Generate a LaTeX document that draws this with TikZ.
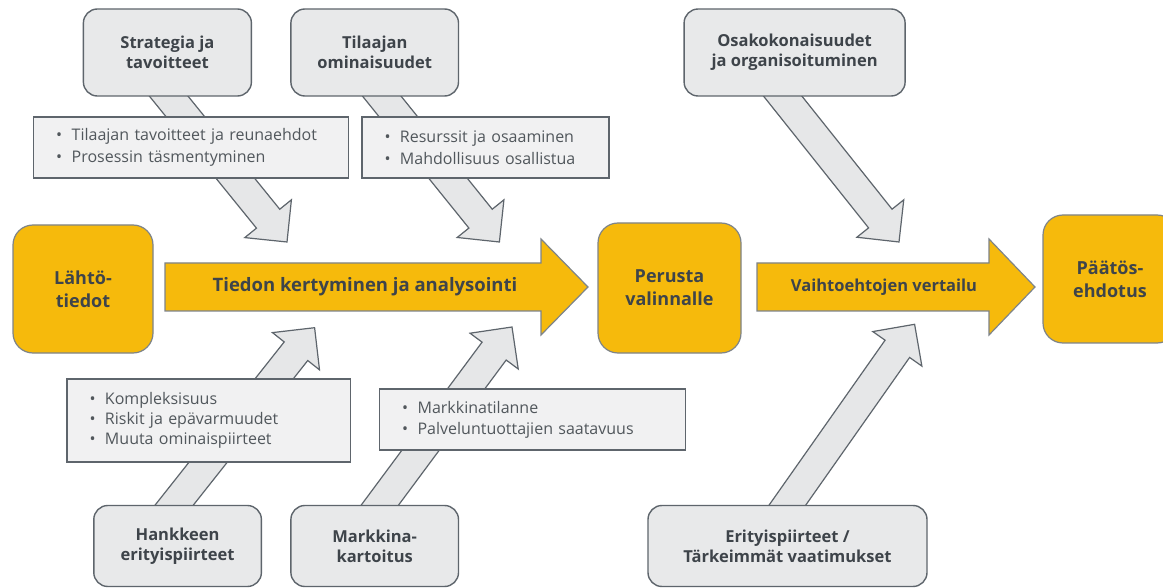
\documentclass[tikz,border=0pt]{standalone}
\usepackage{fontspec}
\setmainfont{Open Sans}
\usetikzlibrary{calc}
\definecolor{orng}{HTML}{F6BA0C}
\definecolor{gfill}{HTML}{E8E9EA}
\definecolor{bfill}{HTML}{F1F1F2}
\definecolor{afill}{HTML}{E6E7E8}
\definecolor{edge}{HTML}{5E656C}
\definecolor{txt}{HTML}{3E444A}
\newcommand\fatarrow[2]{%
  \coordinate (fh) at ($(#2)!30pt!(#1)$);
  \draw[fatarr] ($(#1)!15pt!90:(#2)$) -- ($(fh)!15pt!-90:(#1)$) -- ($(fh)!30pt!-90:(#1)$)
    -- (#2) -- ($(fh)!30pt!90:(#1)$) -- ($(fh)!15pt!90:(#1)$) -- ($(#1)!15pt!-90:(#2)$) -- cycle;}
\newcommand\bul[1]{\makebox[15.5pt][l]{•}#1}
\begin{document}
\begin{tikzpicture}[x=1pt,y=-1pt,
  graybox/.style={draw=edge, line width=1.4pt, fill=gfill, rounded corners=14pt,
    text=txt, font=\fontsize{16.5}{20}\selectfont\bfseries, align=center, inner sep=0pt},
  orangebox/.style={draw=edge!80, line width=1.2pt, fill=orng, rounded corners=20pt,
    text=txt, font=\fontsize{18}{23}\selectfont\bfseries, align=center, inner sep=0pt},
  bulletbox/.style={draw=edge, line width=1.4pt, fill=bfill, text=txt!90,
    font=\fontsize{16}{22}\selectfont, align=left, inner xsep=22.5pt, inner ysep=0pt},
  fatarr/.style={draw=edge, line width=1.2pt, fill=afill, line join=miter},
  mainarr/.style={draw=edge!80, line width=1.2pt, fill=orng, line join=miter},
  maintext/.style={text=txt, font=\fontsize{18.5}{20}\selectfont\bfseries}]
\useasboundingbox (0,0) rectangle (1163,588);
\fill[white] (0,0) rectangle (1163,588);

% coordinates for fat arrows
\coordinate (s1) at (147.5,70);   \coordinate (t1) at (287,242);
\coordinate (s2) at (360.7,70);   \coordinate (t2) at (499.4,242);
\coordinate (s3) at (761.9,70);   \coordinate (t3) at (899,242);
\coordinate (s4) at (154.5,530);  \coordinate (t4) at (314.6,327.7);
\coordinate (s5) at (361.4,530);  \coordinate (t5) at (512,327);
\coordinate (s6) at (769.9,530);  \coordinate (t6) at (914.6,324.3);

\fatarrow{s1}{t1}
\fatarrow{s2}{t2}
\fatarrow{s3}{t3}
\fatarrow{s4}{t4}
\fatarrow{s5}{t5}
\fatarrow{s6}{t6}

% main arrows
\draw[mainarr] (165,263) -- (541,263) -- (541,239) -- (588,287) -- (541,335) -- (541,311) -- (165,311) -- cycle;
\draw[mainarr] (757,263) -- (989,263) -- (989,239) -- (1035,287) -- (989,335) -- (989,311) -- (757,311) -- cycle;
\node[maintext] (m1) at (365,287) {Tiedon kertyminen ja analysointi};
\node[maintext, font=\fontsize{16.5}{20}\selectfont\bfseries] (m2) at (884,287) {Vaihtoehtojen vertailu};

% bullet boxes
\node[bulletbox, minimum width=315pt, minimum height=61pt, text width=270pt] (b1) at (191.2,147.5)
  {\bul{Tilaajan tavoitteet ja reunaehdot}\\\bul{Prosessin täsmentyminen}};
\node[bulletbox, minimum width=247pt, minimum height=61pt, text width=202pt] (b2) at (485.5,147.5)
  {\bul{Resurssit ja osaaminen}\\\bul{Mahdollisuus osallistua}};
\node[bulletbox, minimum width=283.6pt, minimum height=83pt, text width=238.6pt, font=\fontsize{16}{20}\selectfont] (b3) at (208.8,420.5)
  {\bul{Kompleksisuus}\\\bul{Riskit ja epävarmuudet}\\\bul{Muuta ominaispiirteet}};
\node[bulletbox, minimum width=305.6pt, minimum height=61pt, text width=260.6pt, font=\fontsize{16}{21}\selectfont] (b4) at (532.4,419.5)
  {\bul{Markkinatilanne}\\\bul{Palveluntuottajien saatavuus}};

% gray boxes
\node[graybox, minimum width=168pt, minimum height=87pt] (strat) at (167.4,52.5) {Strategia ja\\tavoitteet};
\node[graybox, minimum width=167.6pt, minimum height=87pt] (tilaa) at (374.7,52.5) {Tilaajan\\ominaisuudet};
\node[graybox, minimum width=221pt, minimum height=87pt] (osako) at (794.6,52.5) {Osakokonaisuudet\\ja organisoituminen};
\node[graybox, minimum width=167.6pt, minimum height=81pt] (hank) at (177.6,546) {Hankkeen\\erityispiirteet};
\node[graybox, minimum width=167.6pt, minimum height=81pt] (markk) at (374.7,546) {Markkina-\\kartoitus};
\node[graybox, minimum width=279pt, minimum height=81pt] (erity) at (787.5,546) {Erityispiirteet /\\Tärkeimmät vaatimukset};

% orange boxes
\node[orangebox, minimum width=140pt, minimum height=128pt] (lahto) at (83,289) {Lähtö-\\tiedot};
\node[orangebox, minimum width=143pt, minimum height=130pt] (perus) at (669.5,288) {Perusta\\valinnalle};
\node[orangebox, minimum width=134pt, minimum height=128pt] (paato) at (1110,279) {Päätös-\\ehdotus};
\end{tikzpicture}
\end{document}
